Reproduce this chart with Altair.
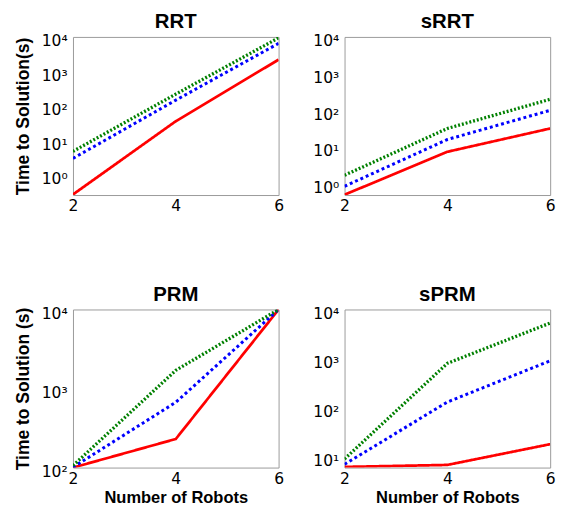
import altair as alt
import pandas as pd

robots = [2, 4, 6]
series = ["fast", "mid", "slow"]

rrt_fast = [0.27, 36, 2200]
rrt_mid = [3.0, 147, 6500]
rrt_slow = [4.8, 220, 9400]

srrt_fast = [0.5, 7.4, 32]
srrt_mid = [0.85, 16, 100]
srrt_slow = [1.7, 32, 200]

prm_fast = [100, 230, 10000]
prm_mid = [101, 670, 10000]
prm_slow = [106, 1700, 10000]

sprm_fast = [6.2, 6.8, 18]
sprm_mid = [7.0, 130, 900]
sprm_slow = [9.0, 800, 5300]

panels = {
    "RRT": [rrt_fast, rrt_mid, rrt_slow],
    "sRRT": [srrt_fast, srrt_mid, srrt_slow],
    "PRM": [prm_fast, prm_mid, prm_slow],
    "sPRM": [sprm_fast, sprm_mid, sprm_slow],
}
y_domains = {
    "RRT": [0.26, 10000],
    "sRRT": [0.49, 10000],
    "PRM": [100, 10000],
    "sPRM": [6, 10000],
}
y_ticks = {
    "RRT": [1, 10, 100, 1000, 10000],
    "sRRT": [1, 10, 100, 1000, 10000],
    "PRM": [100, 1000, 10000],
    "sPRM": [10, 100, 1000, 10000],
}

rows = []
for name, lists in panels.items():
    for s, vals in zip(series, lists):
        for r, v in zip(robots, vals):
            rows.append({"alg": name, "series": s, "robots": r, "time": v})
data = pd.DataFrame(rows)

label_expr = "'10' + ['\u2070','\u00b9','\u00b2','\u00b3','\u2074'][round(log(datum.value)/LN10)]"

W, H = 212, 163


def panel(name, ytitle=None, xtitle=None):
    df = data[data["alg"] == name]
    xk = dict(values=[2, 4, 6], labelFlush=False, ticks=False, domain=False, grid=False,
              labelPadding=3, titlePadding=4, titleFontSize=17)
    yk = dict(values=y_ticks[name], labelExpr=label_expr, ticks=False, domain=False, grid=False,
              labelPadding=6, labelBaseline="top", labelOffset=-4,
              titlePadding=9, titleFontSize=18)
    x = alt.X("robots:Q", scale=alt.Scale(domain=[2, 6], nice=False, zero=False),
              axis=alt.Axis(**xk), title=xtitle)
    y = alt.Y("time:Q", scale=alt.Scale(type="log", domain=y_domains[name], nice=False),
              axis=alt.Axis(**yk), title=ytitle)
    return (
        alt.Chart(df)
        .mark_line(clip=True)
        .encode(
            x=x,
            y=y,
            color=alt.Color("series:N", scale=alt.Scale(domain=series, range=["#ff0000", "#0000ff", "#008000"]), legend=None),
            strokeDash=alt.StrokeDash("series:N", scale=alt.Scale(domain=series, range=[[1, 0], [3, 3], [2, 2]]), legend=None),
            strokeWidth=alt.StrokeWidth("series:N", scale=alt.Scale(domain=series, range=[2.8, 3.4, 2.5]), legend=None),
            order=alt.Order("series:N", sort="descending"),
        )
        .properties(width=W, height=H,
                    title=alt.TitleParams(name, fontSize=21, font="Liberation Sans", fontWeight="bold", offset=1))
    )


top = alt.hconcat(panel("RRT", ytitle="Time to Solution(s)"), panel("sRRT"), spacing=28)
bottom = alt.hconcat(panel("PRM", ytitle="Time to Solution (s)", xtitle="Number of Robots"),
                     panel("sPRM", xtitle="Number of Robots"), spacing=28)

chart = (
    alt.vconcat(top, bottom, spacing=71)
    .properties(padding={"left": 6, "top": -5, "right": 0, "bottom": 0})
    .configure_view(stroke="#999999", strokeWidth=1)
    .configure_axis(labelFont="DejaVu Sans", labelFontSize=16, labelColor="#000000",
                    titleFont="Liberation Sans", titleFontWeight="bold", titleColor="#000000")
)

chart.save("out.html", embed_options={"renderer": "svg", "actions": False})
